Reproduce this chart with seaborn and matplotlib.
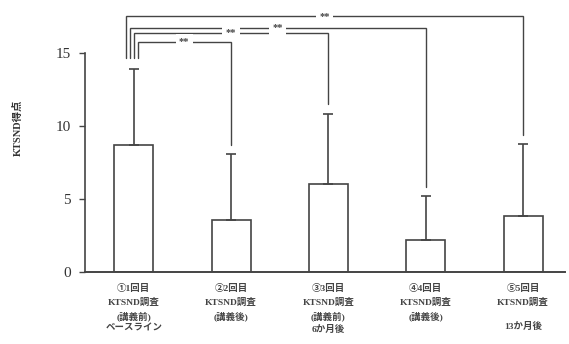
import matplotlib
matplotlib.use("Agg")
import matplotlib.pyplot as plt
import seaborn as sns
import pandas as pd
import numpy as np

categories = ["①1回目\nKTSND調査\n(講義前)\nベースライン",
              "②2回目\nKTSND調査\n(講義後)",
              "③3回目\nKTSND調査\n(講義前)\n6か月後",
              "④4回目\nKTSND調査\n(講義後)",
              "⑤5回目\nKTSND調査\n\n13か月後"]
means = [8.7, 3.56, 6.03, 2.19, 3.84]
sds = [5.2, 4.5, 4.8, 3.0, 4.9]
yticks = [0, 5, 10, 15]
ylabel = "KTSND得点"
# significance brackets: (group a, group b, bracket height, left-leg offset)
brackets = [(0, 4, 17.5, -0.08), (0, 3, 16.7, -0.04), (0, 2, 16.35, 0.0), (0, 1, 15.75, 0.04)]
sig_label = "**"

sns.set_style("white")
plt.rcParams['font.family'] = ['Liberation Serif', 'Noto Sans CJK JP', 'DejaVu Sans']

col = "#444444"
fig = plt.figure(figsize=(5.69, 3.44), dpi=100)
ax = fig.add_axes([85/569, 1-272/344, 480/569, 272/344])

df = pd.DataFrame({"cat": categories, "mean": means})
sns.barplot(data=df, x="cat", y="mean", ax=ax, width=0.4, color="white",
            edgecolor=col, linewidth=1.2, errorbar=None)
xs = np.arange(len(categories))
ax.errorbar(xs, means, yerr=[np.zeros(len(sds)), sds], fmt="none",
            ecolor=col, elinewidth=1.2, capsize=3.5, capthick=1.2)

ax.set_xlim(-0.5, 4.43)
ax.set_ylim(0, 18.6)
ax.set_yticks(yticks)
ax.set_yticklabels([str(t) for t in yticks], fontsize=11, color="#333333")
ax.tick_params(axis="y", direction="out", length=4, width=1, color=col, left=True, pad=6)
ax.tick_params(axis="x", length=0, pad=9)
ax.set_xticks(xs)
ax.set_xticklabels(categories, fontsize=6.8, color="#444444", linespacing=1.55,
                   fontweight="bold")
ax.set_xlabel("")
ax.set_ylabel("")
for s in ["top", "right"]:
    ax.spines[s].set_visible(False)
ax.spines["left"].set_bounds(0, 15)
ax.spines["left"].set_color(col)
ax.spines["bottom"].set_color(col)
ax.spines["left"].set_linewidth(1.2)
ax.spines["bottom"].set_linewidth(1.4)

fig.text(18/569, 1-128/344, ylabel, rotation=90, ha="center", va="center",
         fontsize=7.5, color="#333333", fontweight="bold")

for a, b, h, off in brackets:
    top_b = means[b] + sds[b]
    la = a + off
    ax.plot([la, la, b, b], [14.65, h, h, top_b + 0.65], color=col, lw=1.0,
            solid_joinstyle="miter")
    xm = (la + b) / 2
    ax.text(xm, h, sig_label, ha="center", va="center", fontsize=7.5, fontweight="bold",
            color=col, bbox=dict(facecolor="white", edgecolor="none", pad=2.5))

fig.savefig("out.png", dpi=100)
